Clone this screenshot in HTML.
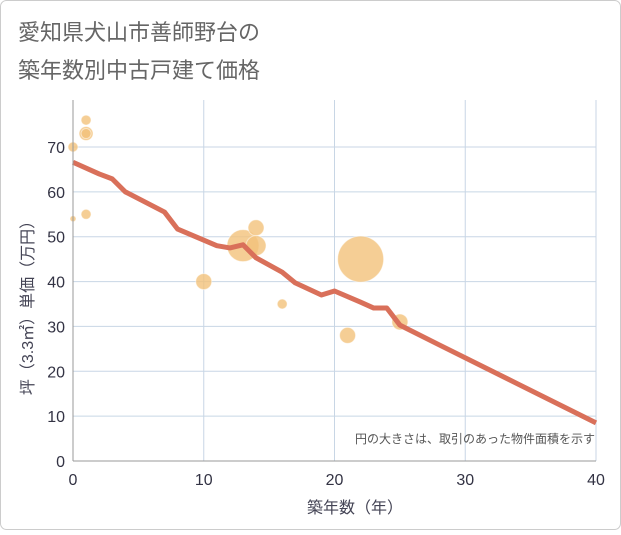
<!DOCTYPE html>
<html><head><meta charset="utf-8"><style>
body{margin:0;background:#fff;}
.f{font-family:"Liberation Sans","Noto Sans CJK JP",sans-serif;}
</style></head><body>
<svg width="621" height="530" class="f">
<rect x="0.5" y="0.5" width="620" height="529" rx="6" fill="#fff" stroke="#ccc"/>
<text x="18" y="40" font-size="22" fill="#666">愛知県犬山市善師野台の</text>
<text x="18" y="78" font-size="22" fill="#666">築年数別中古戸建て価格</text>
<g id="grid"></g>
<g id="bubbles"></g>
<path id="line" fill="none" stroke="#d9705a" stroke-width="5" stroke-linejoin="round"/>
<g id="axes"></g>
<text x="595" y="443" font-size="12" fill="#555" text-anchor="end">円の大きさは、取引のあった物件面積を示す</text>
<text x="355" y="513" font-size="16" fill="#445" text-anchor="middle">築年数（年）</text>
<text transform="translate(33,304) rotate(-90)" font-size="16" fill="#445" text-anchor="middle">坪（3.3㎡）単価（万円）</text>
</svg>
<script>
const xTicks=[0,10,20,30,40];
const yTicks=[0,10,20,30,40,50,60,70];
const lineX=[0,2,3,4,7,8,11,12,13,14,16,17,19,20,22,23,24,25,28,40];
const lineY=[66.6,64,62.9,60,55.5,51.7,48,47.5,48.2,45.3,42.1,39.7,37,37.9,35.4,34.1,34.1,30.3,25.9,8.5];
const bubX=[0,1,1,1,0,1,13,14,14,10,16,22,21,25];
const bubY=[70,76,73,73,54,55,48,52,48,40,35,45,28,31];
const bubR=[5,5,7,5,3,5,16,8,10,8,5,23,8,8];
const X0=73,X1=596,Y0=461,Y70=147;
const sx=v=>X0+(X1-X0)*v/40, sy=v=>Y0-(Y0-Y70)*v/70;
const NS='http://www.w3.org/2000/svg';
function mk(t,a,p){const e=document.createElementNS(NS,t);for(const k in a)e.setAttribute(k,a[k]);p.appendChild(e);return e;}
const g=document.getElementById('grid'),ax=document.getElementById('axes');
xTicks.forEach(t=>{const l=mk('line',{x1:sx(t),x2:sx(t),y1:100,y2:Y0,stroke:'#c8d6e5'},g);

const tx=mk('text',{x:sx(t),y:Y0+24,'font-size':16,fill:'#334','text-anchor':'middle'},ax);tx.textContent=t;
});
yTicks.forEach(t=>{const l=mk('line',{x1:X0,x2:X1,y1:sy(t),y2:sy(t),stroke:'#c8d6e5'},g);

const tx=mk('text',{x:X0-8,y:sy(t)+6,'font-size':16,fill:'#334','text-anchor':'end'},ax);tx.textContent=t;
});
const a1=mk('line',{x1:X0,x2:X0,y1:100,y2:Y0,stroke:'#999'},ax);
const a2=mk('line',{x1:X0,x2:X1,y1:Y0,y2:Y0,stroke:'#999'},ax);
const b=document.getElementById('bubbles');
bubX.forEach((v,i)=>{const c=mk('circle',{cx:sx(v),cy:sy(bubY[i]),r:bubR[i],fill:'#f3c27a','fill-opacity':0.8,stroke:'#fff','stroke-opacity':0.5},b);
});
document.getElementById('line').setAttribute('d',lineX.map((v,i)=>(i?'L':'M')+sx(v)+','+sy(lineY[i])).join(''));
</script>
</body></html>
